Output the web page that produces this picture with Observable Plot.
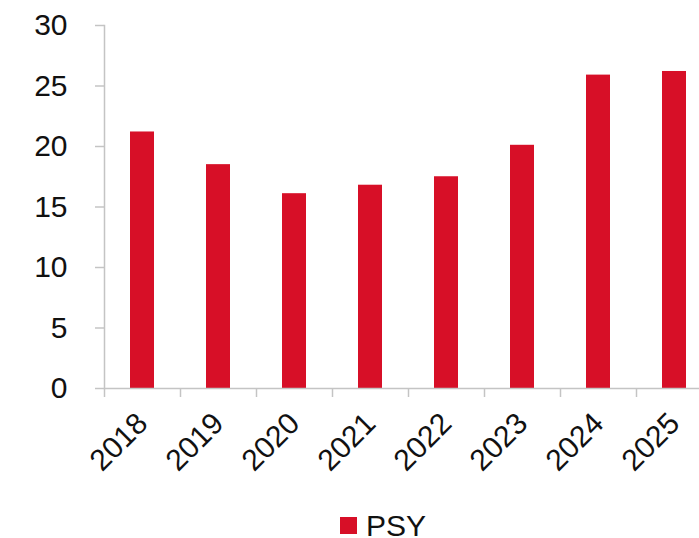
<!DOCTYPE html>
<html>
<head>
<meta charset="utf-8">
<script src="https://cdn.jsdelivr.net/npm/d3@7"></script>
<script src="https://cdn.jsdelivr.net/npm/@observablehq/plot@0.6"></script>
<style>
  html, body { margin: 0; padding: 0; background: #fff; overflow: hidden; width: 699px; height: 538px; }
  #chart { width: 699px; height: 500px; overflow: hidden; }
  #chart svg { display: block; max-width: none !important; }
  #legend { height: 38px; position: relative; font-family: "Liberation Sans", Arial, sans-serif; font-size: 30px; color: #111; }
  #legend .sw { position: absolute; left: 340px; top: 17px; width: 17px; height: 17px; background: #d70f27; }
  #legend .lb { position: absolute; left: 366px; top: 14px; line-height: 24px; }
</style>
</head>
<body>
<div id="chart"></div>
<div id="legend"><span class="sw"></span><span class="lb">PSY</span></div>
<script>
const years = ["2018", "2019", "2020", "2021", "2022", "2023", "2024", "2025"];
const psy = [21.2, 18.5, 16.1, 16.8, 17.5, 20.1, 25.9, 26.2];
const yTicks = [0, 5, 10, 15, 20, 25, 30];
const seriesName = "PSY";

const data = years.map((y, i) => ({year: y, value: psy[i]}));
const red = "#d70f27";
const gray = "#c4c4c4";

const chart = Plot.plot({
  width: 712,
  height: 500,
  marginLeft: 104,
  marginRight: 0,
  marginTop: 25,
  marginBottom: 112,
  style: {fontFamily: "'Liberation Sans', Arial, sans-serif", fontSize: "30px", color: "#111", background: "transparent", maxWidth: "none"},
  x: {domain: years, paddingInner: 0.684, paddingOuter: 0.342, align: 0.5},
  y: {domain: [0, 30], ticks: yTicks},
  marks: [
    Plot.barY(data, {x: "year", y: "value", fill: red}),
    Plot.ruleY([0], {stroke: gray, strokeWidth: 1.5}),
    Plot.frame({anchor: "left", stroke: gray, strokeWidth: 1.5}),
    Plot.axisY({ticks: yTicks, tickSize: 9, tickPadding: 28, stroke: gray, strokeWidth: 1.5, fontSize: 30, fill: "#111", label: null}),
    Plot.axisX({tickSize: 9, dx: -38, text: null, stroke: gray, strokeWidth: 1.5, label: null}),
    Plot.axisX({tickSize: 0, tickRotate: -45, tickPadding: 30, dx: 0, fontSize: 30, fill: "#111", label: null})
  ]
});
document.getElementById("chart").appendChild(chart);
</script>
</body>
</html>
